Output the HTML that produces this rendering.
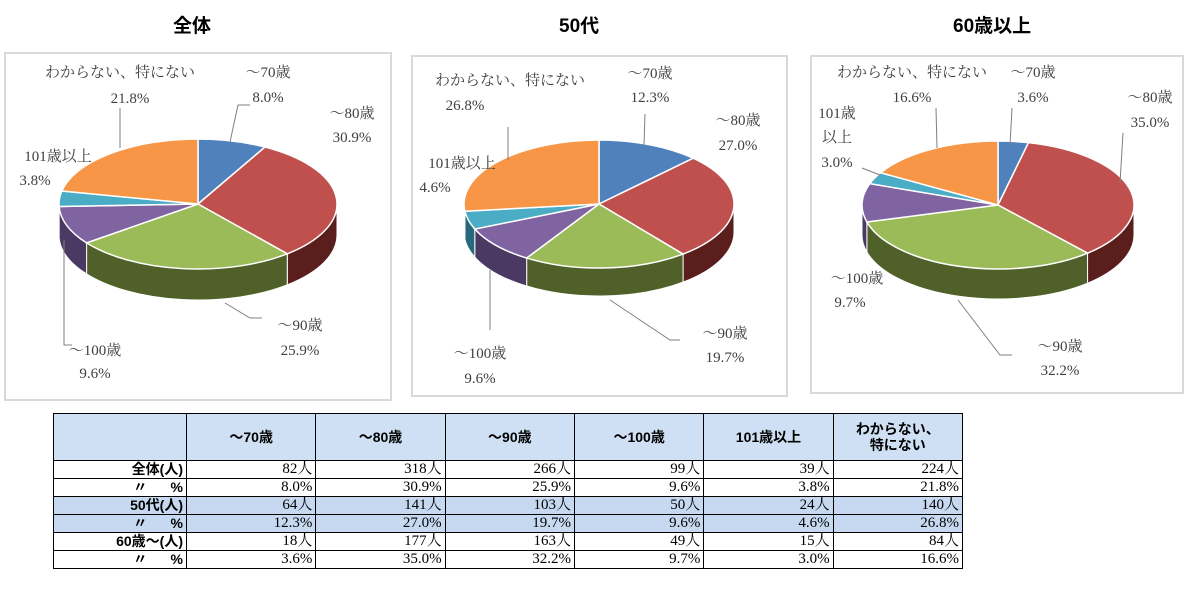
<!DOCTYPE html>
<html><head><meta charset="utf-8">
<style>
body{margin:0;width:1192px;height:594px;background:#fff;position:relative;overflow:hidden;font-family:"Liberation Sans","Noto Sans CJK JP",sans-serif}
.t{position:absolute;font-weight:bold;font-size:19px;color:#000}
svg{position:absolute;left:0;top:0}
table{position:absolute;left:53px;top:413px;border-collapse:collapse;font-size:15px;table-layout:fixed;width:910px}
td{border:1px solid #000;height:17px;padding:0 3px;text-align:right;font-family:"Liberation Serif","Noto Serif CJK JP",serif;line-height:17px}
th{border:1px solid #000;background:#cfe0f4;height:44px;font-weight:bold;font-size:14px;line-height:16px}
td.l{font-family:"Liberation Sans","Noto Sans CJK JP",sans-serif;font-weight:bold;font-size:14px}
tr.b td{background:#c6d9f1}
</style></head><body>
<div class="t" style="left:173px;top:11px">全体</div>
<div class="t" style="left:559px;top:11px">50代</div>
<div class="t" style="left:953px;top:11px">60歳以上</div>
<svg id="s" width="1192" height="410"></svg>
<table>
<tr><th style="width:130px"></th><th>～70歳</th><th>～80歳</th><th>～90歳</th><th>～100歳</th><th>101歳以上</th><th>わからない、<br>特にない</th></tr>
<tr><td class="l">全体(人)</td><td>82人</td><td>318人</td><td>266人</td><td>99人</td><td>39人</td><td>224人</td></tr>
<tr><td class="l">〃&nbsp;&nbsp;&nbsp;&nbsp;&nbsp;&nbsp;%</td><td>8.0%</td><td>30.9%</td><td>25.9%</td><td>9.6%</td><td>3.8%</td><td>21.8%</td></tr>
<tr class="b"><td class="l">50代(人)</td><td>64人</td><td>141人</td><td>103人</td><td>50人</td><td>24人</td><td>140人</td></tr>
<tr class="b"><td class="l">〃&nbsp;&nbsp;&nbsp;&nbsp;&nbsp;&nbsp;%</td><td>12.3%</td><td>27.0%</td><td>19.7%</td><td>9.6%</td><td>4.6%</td><td>26.8%</td></tr>
<tr><td class="l">60歳～(人)</td><td>18人</td><td>177人</td><td>163人</td><td>49人</td><td>15人</td><td>84人</td></tr>
<tr><td class="l">〃&nbsp;&nbsp;&nbsp;&nbsp;&nbsp;&nbsp;%</td><td>3.6%</td><td>35.0%</td><td>32.2%</td><td>9.7%</td><td>3.0%</td><td>16.6%</td></tr>
</table>
<script>
const categories=["～70歳","～80歳","～90歳","～100歳","101歳以上","わからない、特にない"];
const valuesAll=[8.0,30.9,25.9,9.6,3.8,21.8];
const values50=[12.3,27.0,19.7,9.6,4.6,26.8];
const values60=[3.6,35.0,32.2,9.7,3.0,16.6];
const topColors=["#4f81bd","#c0504d","#9bbb59","#8064a2","#4bacc6","#f79646"];
const sideColors=["#2c4d75","#5a1e1c","#4f6128","#4a3a63","#27697a","#9a5518"];
const NS="http://www.w3.org/2000/svg";
const svgEl=document.getElementById('s');
function mk(tag,attrs,parent){const e=document.createElementNS(NS,tag);for(const k in attrs)e.setAttribute(k,attrs[k]);(parent||svgEl).appendChild(e);return e;}
const panels=[
 {vals:valuesAll,box:[5,53,386,347],cx:198,cy:204,rx:139,ry:65,d:31,name:"all",
  labels:[[268,72,97],[352,113,137],[300,325,350],[95,350,373],[58,156,180,35],[120,72,98,130]],
  leads:[[[230,142],[238,105],[250,105]],[],[[225,303],[250,318],[262,318]],[[64,240],[64,345],[72,345]],[],[[120,148],[120,108]]]},
 {vals:values50,box:[412,56,375,340],cx:599,cy:204,rx:135,ry:64,d:28,name:"50s",
  labels:[[650,73,97],[738,120,145],[725,333,357],[480,353,378],[462,163,187,435],[510,80,105,465]],
  leads:[[[644,146],[645,114]],[],[[610,300],[670,340],[680,340]],[[490,270],[490,330]],[],[[508,160],[508,127]]]},
 {vals:values60,box:[811,56,372,337],cx:998,cy:205,rx:136,ry:64,d:30,name:"60plus",
  labels:[[1033,72,97],[1150,97,122],[1060,346,370],[857,278,302,850],[837,113,137],[912,72,97,912]],
  leads:[[[1010,145],[1012,108]],[[1120,183],[1123,133]],[[958,300],[1000,355],[1012,355]],[],[[880,175],[862,168]],[[937,148],[936,108]]]}
];
panels.forEach(p=>{
 const g=mk('g',{});
 
 
 const bx=mk('rect',{x:p.box[0],y:p.box[1],width:p.box[2],height:p.box[3],fill:'#fff',stroke:'#d9d9d9','stroke-width':2},g);
 
 
 const tot=p.vals.reduce((a,b)=>a+b,0);
 const pt=(a,dy)=>[p.cx+p.rx*Math.cos(a),p.cy+p.ry*Math.sin(a)+(dy||0)];
 let cum=0;const angs=[];
 p.vals.forEach(v=>{const a1=-Math.PI/2+2*Math.PI*cum/tot;cum+=v;const a2=-Math.PI/2+2*Math.PI*cum/tot;angs.push([a1,a2]);});
 angs.forEach(([a1,a2],i)=>{
  const segs=[[0,Math.PI],[2*Math.PI,3*Math.PI]];
  segs.forEach(([s,e])=>{
   const b1=Math.max(a1,s),b2=Math.min(a2,e);if(b2<=b1)return;
   const A=pt(b1),B=pt(b2),C=pt(b2,p.d),D=pt(b1,p.d);
   const lg=(b2-b1)>Math.PI?1:0;
   const w=mk('path',{d:`M${A}A${p.rx},${p.ry} 0 ${lg} 1 ${B}L${C}A${p.rx},${p.ry} 0 ${lg} 0 ${D}Z`,fill:sideColors[i],stroke:'#fff','stroke-width':1},g);
   
   
  });
 });
 angs.forEach(([a1,a2],i)=>{
  const A=pt(a1),B=pt(a2);const lg=(a2-a1)>Math.PI?1:0;
  const s=mk('path',{d:`M${p.cx},${p.cy}L${A}A${p.rx},${p.ry} 0 ${lg} 1 ${B}Z`,fill:topColors[i],stroke:'#fff','stroke-width':1.5},g);
  
  
 });
 p.leads.forEach(l=>{if(!l.length)return;
  const pl=mk('polyline',{points:l.map(q=>q.join(',')).join(' '),fill:'none',stroke:'#7f7f7f','stroke-width':1},g);
  
  
 });
 p.labels.forEach((L,i)=>{
  const f={'font-family':'"Liberation Serif","Noto Serif CJK JP",serif','font-size':15,fill:'#404040','text-anchor':'middle'};
  let nameLines=[categories[i]];
  if(p.name==="60plus"&&i===4)nameLines=["101歳","以上"];
  nameLines.forEach((t,k)=>{
   const tx=mk('text',Object.assign({x:L[0],y:L[1]+k*24+5},f),g);tx.textContent=t;
   
   
  });
  const px=L[3]!==undefined?L[3]:L[0];
  const ty=(p.name==="60plus"&&i===4)?L[2]+25+5:L[2]+5;
  const tv=mk('text',Object.assign({x:px,y:ty},f),g);tv.textContent=p.vals[i].toFixed(1)+'%';
  
  
 });
});
</script>
</body></html>
